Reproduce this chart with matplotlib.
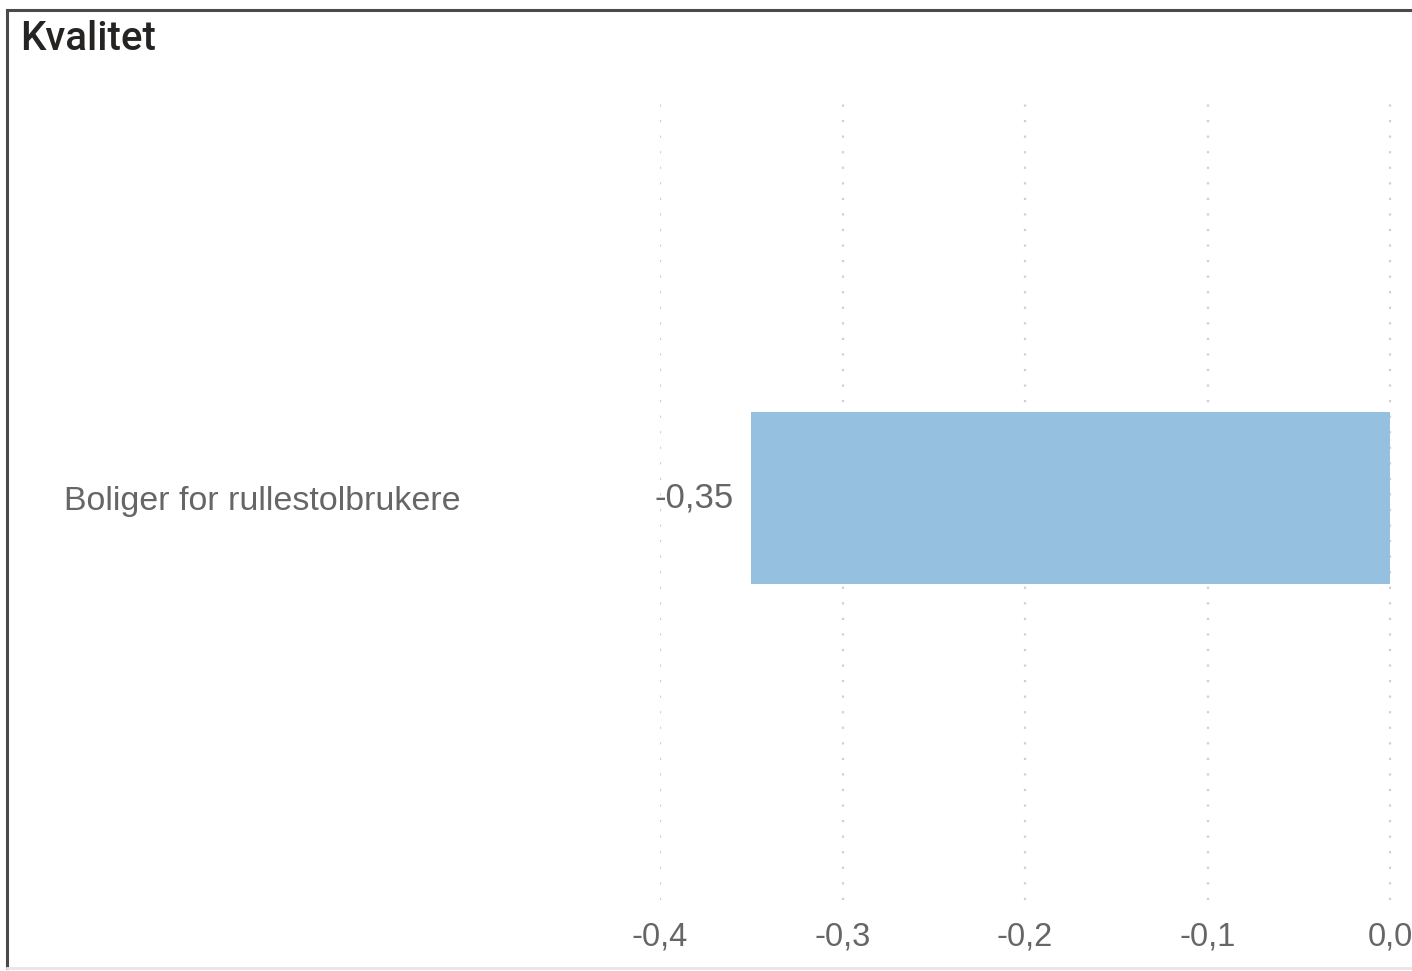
import matplotlib.pyplot as plt
from matplotlib.lines import Line2D

tittel = "Kvalitet"
kategorier = ["Boliger for rullestolbrukere"]
verdier = [-0.35]
xticks = [-0.4, -0.3, -0.2, -0.1, 0.0]
xtick_labels = ["-0,4", "-0,3", "-0,2", "-0,1", "0,0"]

W, H = 1412, 971
fig = plt.figure(figsize=(W / 100, H / 100), dpi=100)
plt.rcParams['font.family'] = ['Liberation Sans', 'DejaVu Sans']

# akse: fra x=660 til hoyre kant, y=100..900 (piksler)
ax = fig.add_axes([660 / W, (H - 900) / H, (W - 660) / W, 800 / H])
ax.set_xlim(-0.4, 0.012)
ax.set_ylim(-0.505, 0.5)

ypos = list(range(len(kategorier)))
ax.barh(ypos, verdier, height=0.216, color="#96c0e0", zorder=2)

for y, v in zip(ypos, verdier):
    ax.annotate(f"{v:.2f}".replace(".", ","), (v, y), xytext=(-18, 0),
                textcoords="offset pixels", ha="right", va="center",
                fontsize=25, color="#666666")

for x in xticks:
    ax.axvline(x, color="#d0d0d0", linestyle=(0, (1, 6)), linewidth=1.6, zorder=1)

ax.set_xticks(xticks)
ax.set_xticklabels(xtick_labels, fontsize=23.5, color="#666666")
ax.set_yticks(ypos)
ax.set_yticklabels(kategorier, fontsize=24.5, color="#666666")
for lbl in ax.get_yticklabels():
    lbl.set_ha("left")
ax.tick_params(axis="y", length=0, pad=(660 - 64) / (100 / 72))
ax.tick_params(axis="x", length=0, pad=(936 - 900 - 15) / (100 / 72))
for s in ax.spines.values():
    s.set_visible(False)

# ramme
fig.add_artist(Line2D([7 / W, 1], [(H - 10) / H] * 2, color="#4a4a4a", linewidth=2.2))
fig.add_artist(Line2D([7 / W] * 2, [(H - 10) / H, (H - 968) / H], color="#4a4a4a", linewidth=2.2))
fig.add_artist(Line2D([7 / W, 1], [(H - 968) / H] * 2, color="#e6e6e6", linewidth=2))

fig.text(20 / W, (H - 39) / H, tittel, fontsize=29, color="#252423",
         family=["Roboto", "DejaVu Sans"], fontweight="medium", va="center", ha="left")

fig.savefig("out.png", dpi=100)
